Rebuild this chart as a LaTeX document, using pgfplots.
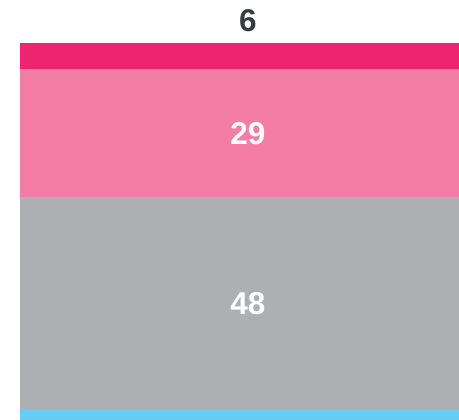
\documentclass[border=0pt]{standalone}
\usepackage{pgfplots}
\pgfplotsset{compat=1.18}
\usepackage{fontspec}
\setmainfont{Liberation Sans}
\definecolor{cdark}{HTML}{EF246E}
\definecolor{cpink}{HTML}{F47DA5}
\definecolor{cgray}{HTML}{ADB0B3}
\definecolor{cblue}{HTML}{66CDF4}
\definecolor{ctext}{HTML}{333D42}
\begin{document}
\begin{tikzpicture}
\begin{axis}[
  at={(0,0)}, anchor=south west,
  scale only axis, width=459pt, height=420pt,
  hide axis, clip=true,
  xmin=0, xmax=459, ymin=14.5, ymax=109.75,
  ybar stacked, bar width=480pt,
]
\addplot[fill=cblue, draw=none] coordinates {(260,17)};
\addplot[fill=cgray, draw=none] coordinates {(260,48)};
\addplot[fill=cpink, draw=none] coordinates {(260,29)};
\addplot[fill=cdark, draw=none] coordinates {(260,6)};
\coordinate (a) at (axis cs:248,40.9);
\coordinate (b) at (axis cs:248,79.5);
\coordinate (c) at (axis cs:248,105.1);
\end{axis}
\node[text=white, font=\fontsize{31.5}{33}\selectfont\bfseries] at (a) {48};
\node[text=white, font=\fontsize{31.5}{33}\selectfont\bfseries] at (b) {29};
\node[text=ctext, font=\fontsize{31.5}{33}\selectfont\bfseries] at (c) {6};
\pgfresetboundingbox
\path (0,0) rectangle (459pt,420pt);
\end{tikzpicture}
\end{document}
